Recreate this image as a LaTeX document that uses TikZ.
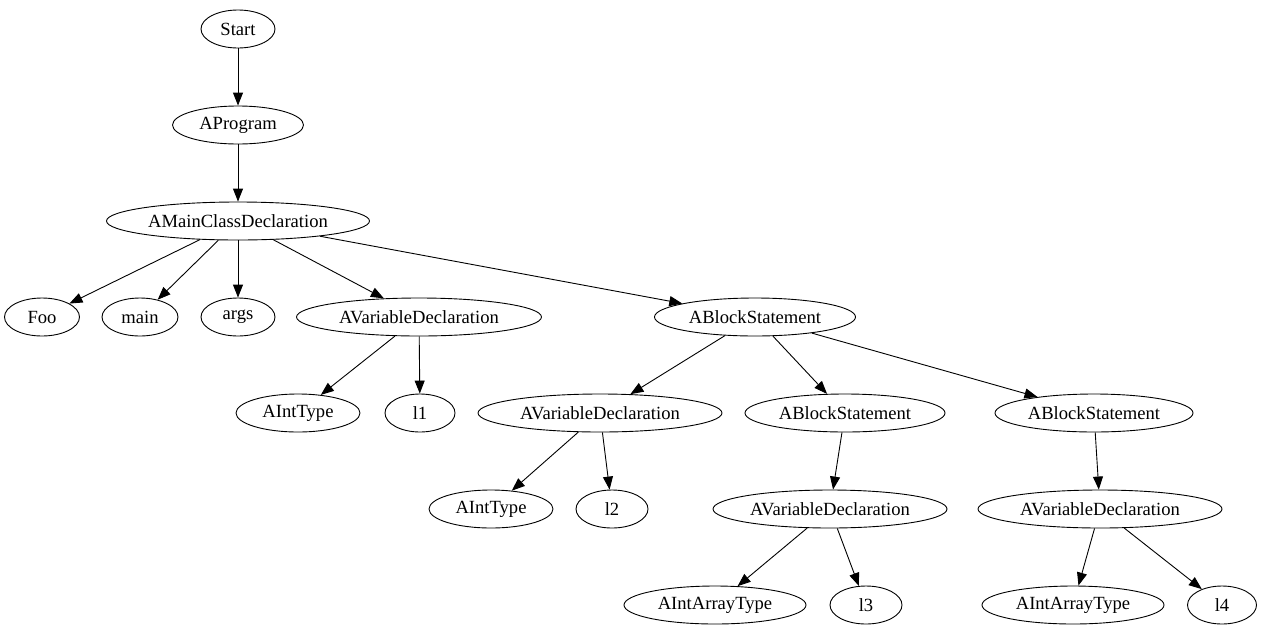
\documentclass[tikz,border=0pt]{standalone}
\usepackage{fontspec}
\setmainfont{Liberation Serif}
\usetikzlibrary{shapes.geometric,arrows.meta}
\begin{document}
\begin{tikzpicture}[x=1pt,y=-1pt,
  nd/.style={ellipse,draw,line width=0.9pt,inner sep=0pt,minimum height=38pt,font=\fontsize{18.6}{20}\selectfont},
  ed/.style={line width=0.9pt,-{Triangle[length=13pt,width=10pt]}}]
\useasboundingbox (0,0) rectangle (1265,635);
\node[nd,minimum width=74pt] (start) at (238,29) {Start};
\node[nd,minimum width=131pt] (prog) at (238,125) {AProgram};
\node[nd,minimum width=263pt] (main) at (238,221) {AMainClassDeclaration};
\node[nd,minimum width=75pt] (foo) at (42,317) {Foo};
\node[nd,minimum width=76pt] (mn) at (140,317) {main};
\node[nd,minimum width=74pt] (args) at (238,317) {args};
\node[nd,minimum width=245pt] (vd1) at (419,317) {AVariableDeclaration};
\node[nd,minimum width=201pt] (bs1) at (755,317) {ABlockStatement};
\node[nd,minimum width=124pt] (it1) at (298,413) {AIntType};
\node[nd,minimum width=70pt] (l1) at (420,413) {l1};
\node[nd,minimum width=244pt] (vd2) at (600,413) {AVariableDeclaration};
\node[nd,minimum width=200pt] (bs2) at (845,413) {ABlockStatement};
\node[nd,minimum width=198pt] (bs3) at (1094,413) {ABlockStatement};
\node[nd,minimum width=124pt] (it2) at (491,509) {AIntType};
\node[nd,minimum width=72pt] (l2) at (612,509) {l2};
\node[nd,minimum width=234pt] (vd3) at (830,509) {AVariableDeclaration};
\node[nd,minimum width=244pt] (vd4) at (1100,509) {AVariableDeclaration};
\node[nd,minimum width=182pt] (iat1) at (715,605) {AIntArrayType};
\node[nd,minimum width=72pt] (l3) at (866,605) {l3};
\node[nd,minimum width=182pt] (iat2) at (1073,605) {AIntArrayType};
\node[nd,minimum width=69pt] (l4) at (1222,605) {l4};
\draw[ed] (start) -- (prog);
\draw[ed] (prog) -- (main);
\draw[ed] (main) -- (foo);
\draw[ed] (main) -- (mn);
\draw[ed] (main) -- (args);
\draw[ed] (main) -- (vd1);
\draw[ed] (main) -- (bs1);
\draw[ed] (vd1) -- (it1);
\draw[ed] (vd1) -- (l1);
\draw[ed] (bs1) -- (vd2);
\draw[ed] (bs1) -- (bs2);
\draw[ed] (bs1) -- (bs3);
\draw[ed] (vd2) -- (it2);
\draw[ed] (vd2) -- (l2);
\draw[ed] (bs2) -- (vd3);
\draw[ed] (bs3) -- (vd4);
\draw[ed] (vd3) -- (iat1);
\draw[ed] (vd3) -- (l3);
\draw[ed] (vd4) -- (iat2);
\draw[ed] (vd4) -- (l4);
\end{tikzpicture}
\end{document}
